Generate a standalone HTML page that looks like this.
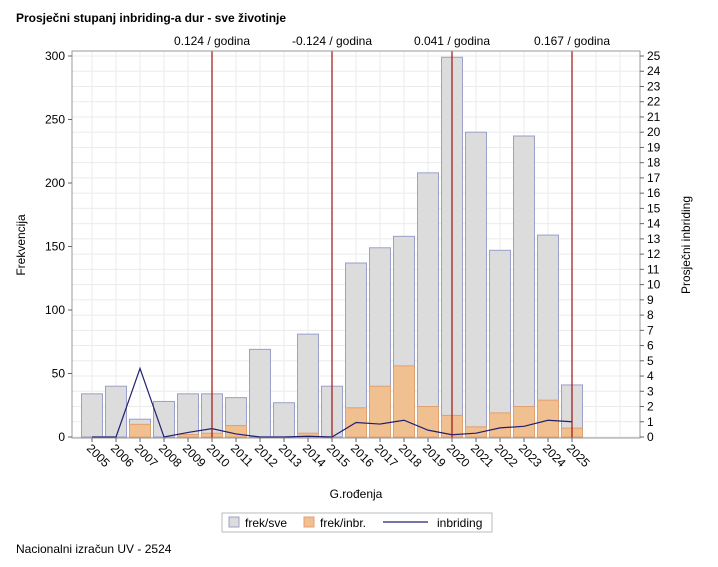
<!DOCTYPE html>
<html><head><meta charset="utf-8"><style>body{margin:0;background:#fff}svg{display:block;font-family:"Liberation Sans",sans-serif}</style></head><body>
<svg width="718" height="567" xmlns="http://www.w3.org/2000/svg">
<rect width="718" height="567" fill="#fff"/>
<text x="16" y="22" font-size="12" font-weight="bold">Prosječni stupanj inbriding-a dur - sve životinje</text>
<g id="g"></g>
<text x="16" y="553" font-size="12">Nacionalni izračun UV - 2524</text>
</svg>
<script>
const s=document.querySelector('svg');let h='';
const L=72,R=640,T=51,B=438,y0=437;
const yl=v=>y0-v*1.27, yr=v=>y0-v*15.24, xc=i=>92+24*i;
for(let k=0;k<=25;k++)h+=`<line x1="${L}" x2="${R}" y1="${yr(k)}" y2="${yr(k)}" stroke="#ebebeb"/>`;
for(let i=0;i<23;i++)h+=`<line x1="${xc(i)}" x2="${xc(i)}" y1="${T}" y2="${B}" stroke="#ebebeb"/>`;
const a=[34,40,14,28,34,34,31,69,27,81,40,137,149,158,208,299,240,147,237,159,41];
const b=[0,0,10,0,2,3,9,0,0,3,0,23,40,56,24,17,8,19,24,29,7];
const c=[0,0,4.5,0,0.3,0.55,0.2,0,0,0.05,0,0.95,0.85,1.1,0.45,0.15,0.25,0.6,0.7,1.1,1.0];
a.forEach((v,i)=>{h+=`<rect x="${xc(i)-10.5}" y="${yl(v)}" width="21" height="${v*1.27}" fill="#dcdcdc" stroke="#9aa0c8"/>`;
if(b[i])h+=`<rect x="${xc(i)-10.5}" y="${yl(b[i])}" width="21" height="${b[i]*1.27}" fill="#f0c090" stroke="#e0a070"/>`;});
h+=`<polyline fill="none" stroke="#202070" stroke-width="1.2" points="${c.map((v,i)=>xc(i)+','+yr(v)).join(' ')}"/>`;
const lab=['0.124 / godina','-0.124 / godina','0.041 / godina','0.167 / godina'];
[5,10,15,20].forEach((i,k)=>{h+=`<line x1="${xc(i)}" x2="${xc(i)}" y1="${T}" y2="${B}" stroke="#a01010" stroke-width="1.2"/><text x="${xc(i)}" y="45" font-size="12" text-anchor="middle">${lab[k]}</text>`;});
h+=`<rect x="${L}" y="${T}" width="${R-L}" height="${B-T}" fill="none" stroke="#999"/>`;
for(let v=0;v<=300;v+=50)h+=`<line x1="${L-4}" x2="${L}" y1="${yl(v)}" y2="${yl(v)}" stroke="#666"/><text x="${L-7}" y="${yl(v)+4}" font-size="12" text-anchor="end">${v}</text>`;
for(let k=0;k<=25;k++)h+=`<line x1="${R}" x2="${R+4}" y1="${yr(k)}" y2="${yr(k)}" stroke="#666"/><text x="${R+7}" y="${yr(k)+4}" font-size="12">${k}</text>`;
a.forEach((v,i)=>{h+=`<line x1="${xc(i)}" x2="${xc(i)}" y1="${B}" y2="${B+4}" stroke="#666"/><text transform="translate(${xc(i)-6},${B+11}) rotate(45)" font-size="12">${2005+i}</text>`;});
h+=`<text x="356" y="498" font-size="12" text-anchor="middle">G.rođenja</text>`;
h+=`<text transform="translate(25,245) rotate(-90)" font-size="12" text-anchor="middle">Frekvencija</text>`;
h+=`<text transform="translate(690,245) rotate(-90)" font-size="12" text-anchor="middle">Prosječni inbriding</text>`;
h+=`<rect x="222" y="513" width="270" height="19" fill="#fff" stroke="#bbb"/>
<rect x="229" y="517" width="10" height="10" fill="#dcdcdc" stroke="#9aa0c8"/><text x="245" y="527" font-size="12">frek/sve</text>
<rect x="304" y="517" width="10" height="10" fill="#f0c090" stroke="#e0a070"/><text x="320" y="527" font-size="12">frek/inbr.</text>
<line x1="383" x2="428" y1="522" y2="522" stroke="#202070" stroke-width="1.2"/><text x="437" y="527" font-size="12">inbriding</text>`;
document.getElementById('g').innerHTML=h;
</script>
</body></html>
